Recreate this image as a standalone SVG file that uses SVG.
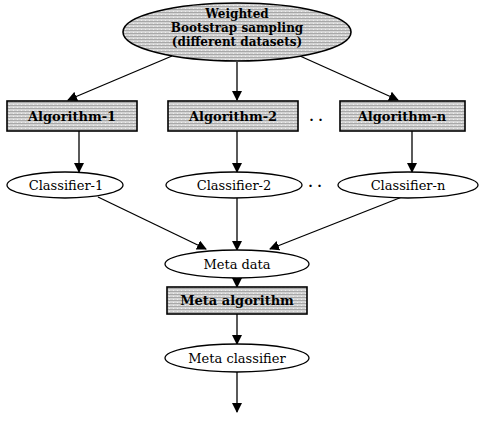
<svg xmlns="http://www.w3.org/2000/svg" width="480" height="428" viewBox="0 0 480 428">
<style>
.shade{fill:url(#dith);stroke:#000;stroke-width:1.6}
.plain{fill:#fff;stroke:#000;stroke-width:1.3}
.t{font-family:"DejaVu Serif","Liberation Serif",serif;font-size:13px;fill:#000;text-anchor:middle}
.tb{font-weight:bold;font-size:13px}
.tt{font-weight:bold;font-size:12px}
.c{stroke:#000;stroke-width:1.3;fill:none;marker-end:url(#ah)}
</style>
<defs>
<pattern id="dith" width="4" height="3" patternUnits="userSpaceOnUse">
<rect width="4" height="3" fill="#d4d4d4"/>
<rect y="0" width="4" height="1" fill="#a8a8a8"/>
<rect x="1" y="2" width="1" height="1" fill="#eeeeee"/>
</pattern>
<marker id="ah" markerWidth="10" markerHeight="10" refX="9" refY="5" orient="auto" markerUnits="userSpaceOnUse">
<path d="M0,0 L10,5 L0,10 Z" fill="#000"/>
</marker>
</defs>
<g id="connectors">
<line class="c" x1="172" y1="56" x2="68" y2="100"/>
<line class="c" x1="237" y1="62" x2="237" y2="100"/>
<line class="c" x1="300" y1="56" x2="398" y2="100"/>
<line class="c" x1="79" y1="131" x2="79" y2="172"/>
<line class="c" x1="237" y1="131" x2="237" y2="172"/>
<line class="c" x1="412" y1="131" x2="412" y2="172"/>
<line class="c" x1="98" y1="197" x2="206" y2="249"/>
<line class="c" x1="237" y1="198" x2="237" y2="250"/>
<line class="c" x1="402" y1="197" x2="270" y2="249"/>
<line class="c" x1="237" y1="278" x2="237" y2="287"/>
<line class="c" x1="237" y1="314" x2="237" y2="344"/>
<line class="c" x1="237" y1="372" x2="237" y2="412"/>
</g>
<g id="bootstrap">
<ellipse class="shade" cx="237" cy="32" rx="114" ry="29"/>
<text class="t tt" x="237" y="18">Weighted</text>
<text class="t tt" x="237" y="32">Bootstrap sampling</text>
<text class="t tt" x="237" y="46">(different datasets)</text>
</g>
<g id="algorithm-1">
<rect class="shade" x="7" y="101" width="130" height="30"/>
<text class="t tb" x="72" y="121">Algorithm-1</text>
</g>
<g id="algorithm-2">
<rect class="shade" x="168" y="101" width="130" height="30"/>
<text class="t tb" x="233" y="121">Algorithm-2</text>
</g>
<g id="dots-1">
<text class="t tb" x="316" y="121">. .</text>
</g>
<g id="algorithm-n">
<rect class="shade" x="340" y="101" width="125" height="30"/>
<text class="t tb" x="402" y="121">Algorithm-n</text>
</g>
<g id="classifier-1">
<ellipse class="plain" cx="65" cy="185" rx="58" ry="13"/>
<text class="t" x="66" y="190">Classifier-1</text>
</g>
<g id="classifier-2">
<ellipse class="plain" cx="234" cy="185" rx="68" ry="13"/>
<text class="t" x="234" y="190">Classifier-2</text>
</g>
<g id="dots-2">
<text class="t tb" x="315" y="187">. .</text>
</g>
<g id="classifier-n">
<ellipse class="plain" cx="408" cy="185" rx="70" ry="13"/>
<text class="t" x="408" y="190">Classifier-n</text>
</g>
<g id="meta-data">
<ellipse class="plain" cx="237" cy="264" rx="72" ry="14"/>
<text class="t" x="237" y="269">Meta data</text>
</g>
<g id="meta-algorithm">
<rect class="shade" x="167" y="287" width="140" height="27"/>
<text class="t tb" x="237" y="305">Meta algorithm</text>
</g>
<g id="meta-classifier">
<ellipse class="plain" cx="237" cy="358" rx="72" ry="14"/>
<text class="t" x="237" y="363">Meta classifier</text>
</g>
</svg>
